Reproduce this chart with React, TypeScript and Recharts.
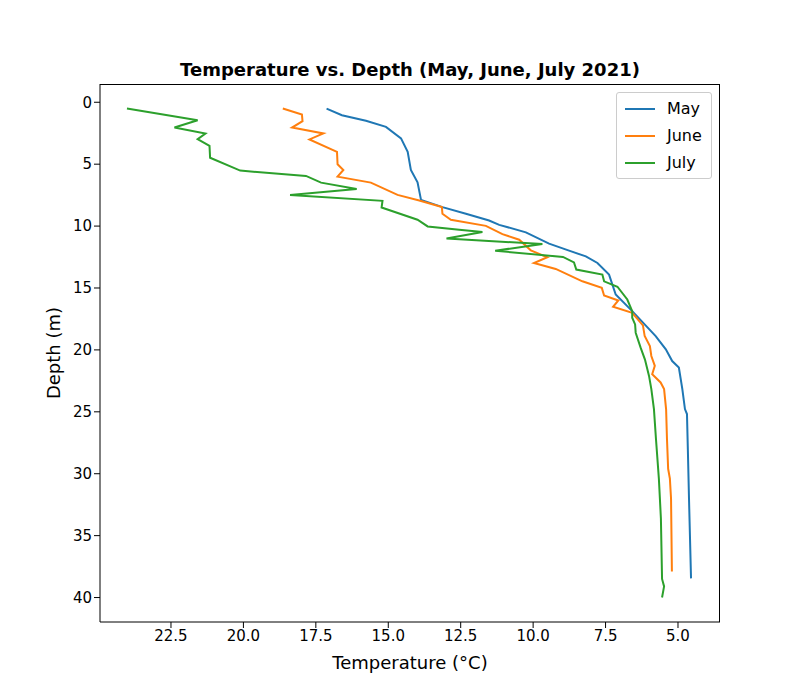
import { ScatterChart, Scatter, XAxis, YAxis } from 'recharts';

const mayTemp = [17.13, 16.6, 15.77, 15.08, 14.56, 14.33, 14.22, 13.99, 13.87, 13.13, 12.32, 11.52, 11.17, 10.25, 9.45, 8.76, 8.18, 7.78, 7.38, 7.15, 6.58, 5.77, 5.42, 5.2, 4.97, 4.85, 4.76, 4.69, 4.66, 4.62, 4.55];
const mayDepth = [0.51, 1.05, 1.5, 1.99, 2.92, 4.0, 5.47, 6.46, 7.88, 8.47, 9.01, 9.55, 9.9, 10.51, 11.42, 11.98, 12.45, 12.98, 13.92, 15.53, 16.87, 18.88, 19.95, 20.9, 21.42, 23.17, 24.78, 25.18, 28, 32, 38.45];

const juneTemp = [18.64, 17.98, 17.96, 18.32, 17.24, 17.72, 16.77, 16.75, 16.55, 16.75, 15.6, 14.68, 13.93, 13.15, 13.13, 12.84, 11.63, 11.06, 10.48, 10.08, 9.51, 9.97, 9.22, 8.3, 7.63, 7.55, 7.06, 7.24, 6.58, 6.21, 6.15, 5.97, 5.92, 5.8, 5.89, 5.6, 5.48, 5.41, 5.38, 5.34, 5.28, 5.24, 5.21];
const juneDepth = [0.51, 0.99, 1.53, 2.04, 2.52, 3.0, 4.0, 5.01, 5.47, 6.01, 6.49, 7.48, 7.94, 8.47, 9.01, 9.49, 9.98, 10.65, 11.1, 11.96, 12.52, 12.98, 13.46, 14.46, 14.99, 15.61, 16.01, 16.52, 17.0, 18.02, 18.88, 19.69, 20.49, 21.29, 21.96, 22.63, 23.17, 24.8, 27.2, 29.6, 30.4, 32, 37.9];

const julyTemp = [24.02, 21.58, 22.38, 21.31, 21.58, 21.17, 21.15, 20.11, 17.84, 17.32, 16.09, 18.39, 15.2, 15.23, 13.99, 13.64, 12.55, 11.75, 12.99, 9.68, 11.31, 8.97, 8.59, 8.51, 7.61, 7.55, 7.09, 6.75, 6.58, 6.58, 6.48, 6.46, 6.29, 6.14, 6.0, 5.92, 5.83, 5.76, 5.66, 5.59, 5.55, 5.48, 5.55];
const julyDepth = [0.51, 1.45, 2.04, 2.52, 2.98, 3.52, 4.48, 5.52, 5.95, 6.49, 7.0, 7.48, 7.96, 8.5, 9.49, 10.03, 10.3, 10.48, 11.0, 11.45, 11.99, 12.49, 12.93, 13.51, 13.92, 14.46, 14.9, 15.93, 16.87, 17.4, 17.94, 18.61, 19.82, 20.78, 22.1, 23.17, 24.78, 27.2, 30.4, 33.6, 38.5, 39.1, 40.0];

const tempTicks = [22.5, 20.0, 17.5, 15.0, 12.5, 10.0, 7.5, 5.0];
const depthTicks = [0, 5, 10, 15, 20, 25, 30, 35, 40];

const zip = (t: number[], d: number[]) => t.map((temp, i) => ({ temp, depth: d[i] }));

const series = [
  { name: 'May', color: '#1f77b4', data: zip(mayTemp, mayDepth) },
  { name: 'June', color: '#ff7f0e', data: zip(juneTemp, juneDepth) },
  { name: 'July', color: '#2ca02c', data: zip(julyTemp, julyDepth) },
];

const font = 'DejaVu Sans, sans-serif';
const tickStyle = { fill: '#000', fontSize: 15, fontFamily: font };

const App = () => {
  return (
    <div style={{ position: 'relative', margin: '-8px 0 0 -8px', width: 800, height: 700, background: '#fff' }}>
      <div style={{ position: 'absolute', top: 59, width: 820, textAlign: 'center', fontFamily: font, fontWeight: 'bold', fontSize: 18 }}>
        Temperature vs. Depth (May, June, July 2021)
      </div>
      <div style={{ position: 'absolute', top: 652, width: 820, textAlign: 'center', fontFamily: font, fontSize: 18 }}>
        Temperature (°C)
      </div>
      <div style={{ position: 'absolute', left: 53, top: 353, transform: 'translate(-50%, -50%) rotate(-90deg)', fontFamily: font, fontSize: 18, whiteSpace: 'nowrap' }}>
        Depth (m)
      </div>
      <ScatterChart width={800} height={700} margin={{ top: 84, right: 80, bottom: 0, left: 40 }}>
        <XAxis
          dataKey="temp"
          type="number"
          domain={[3.55, 24.95]}
          reversed
          ticks={tempTicks}
          tickFormatter={(v: number) => v.toFixed(1)}
          tick={tickStyle}
          stroke="#000"
          height={78}
          allowDataOverflow
        />
        <YAxis
          dataKey="depth"
          type="number"
          domain={[-1.475, 41.975]}
          reversed
          ticks={depthTicks}
          tick={tickStyle}
          stroke="#000"
          width={60}
          allowDataOverflow
        />
        {series.map((s) => (
          <Scatter
            key={s.name}
            name={s.name}
            data={s.data}
            line={{ stroke: s.color, strokeWidth: 2 }}
            lineType="joint"
            shape={() => <g />}
            fill={s.color}
            isAnimationActive={false}
          />
        ))}
      </ScatterChart>
      <div style={{ position: 'absolute', left: 100, top: 84, width: 620, height: 538, border: '1px solid #000', borderLeft: 'none', borderBottom: 'none', boxSizing: 'border-box', pointerEvents: 'none' }} />
      <div style={{ position: 'absolute', left: 616, top: 92, border: '1px solid #ccc', borderRadius: 3, background: '#fff', padding: '2px 8px', fontFamily: font, fontSize: 16, width: 78 }}>
        {series.map((s) => (
          <div key={s.name} style={{ display: 'flex', alignItems: 'center', height: 27 }}>
            <div style={{ width: 30, height: 2, background: s.color, marginRight: 12 }} />
            <span>{s.name}</span>
          </div>
        ))}
      </div>
    </div>
  );
};

export default App;
